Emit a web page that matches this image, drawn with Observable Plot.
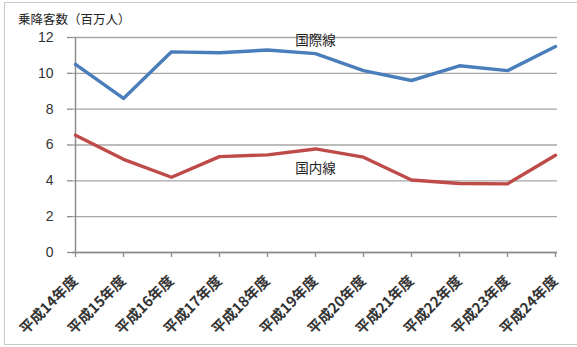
<!DOCTYPE html>
<html>
<head>
<meta charset="utf-8">
<script src="https://cdn.jsdelivr.net/npm/d3@7"></script>
<script src="https://cdn.jsdelivr.net/npm/@observablehq/plot@0.6"></script>
<style>
  html, body { margin: 0; padding: 0; background: #fff; }
  #wrap { position: relative; width: 577px; height: 347px; overflow: hidden; background: #fff;
          font-family: "Noto Sans CJK JP", "Noto Sans", sans-serif; }
  #frame { position: absolute; left: 4px; top: 2px; width: 590px; height: 343px;
           border: 1px solid #c8c8c8; box-sizing: border-box; }
  #title { position: absolute; left: 18px; top: 12px; font-size: 12.5px; line-height: 13px; color: #222; white-space: nowrap; }
  #chart { position: absolute; left: 0; top: 0; }
</style>
</head>
<body>
<div id="wrap">
  <div id="frame"></div>
  <div id="chart"></div>
  <div id="title">乗降客数（百万人）</div>
</div>
<script>
const categories = ["平成14年度","平成15年度","平成16年度","平成17年度","平成18年度","平成19年度","平成20年度","平成21年度","平成22年度","平成23年度","平成24年度"];
const international = [10.5, 8.6, 11.2, 11.15, 11.3, 11.1, 10.15, 9.6, 10.42, 10.15, 11.5];
const domestic = [6.55, 5.2, 4.2, 5.35, 5.45, 5.78, 5.32, 4.05, 3.85, 3.83, 5.43];
const yTicks = [0, 2, 4, 6, 8, 10, 12];
const seriesNames = ["国際線", "国内線"];
const seriesLabelX = ["平成19年度", "平成19年度"];
const seriesLabelY = [11.8, 4.7];
const seriesColors = ["#4a7ebb", "#be4b48"];

const rows = [];
categories.forEach((c, i) => {
  rows.push({cat: c, v: international[i], s: seriesNames[0]});
  rows.push({cat: c, v: domestic[i], s: seriesNames[1]});
});
const labels = seriesNames.map((n, i) => ({name: n, cat: seriesLabelX[i], v: seriesLabelY[i]}));

const chart = Plot.plot({
  width: 577,
  height: 347,
  marginLeft: 72,
  marginRight: 20,
  marginTop: 37,
  marginBottom: 95,
  style: {fontFamily: '"Noto Sans CJK JP", sans-serif', background: "transparent", overflow: "visible"},
  x: {type: "point", domain: categories, padding: 0, label: null},
  y: {domain: [0, 12], label: null},
  color: {domain: seriesNames, range: seriesColors},
  marks: [
    Plot.gridY(yTicks, {stroke: "#a6a6a6", strokeOpacity: 1, strokeWidth: 1.3}),
    Plot.axisY(yTicks, {tickSize: 5, tickPadding: 14, stroke: "#8c8c8c", strokeWidth: 1.3, fontSize: 14, fontFamily: '"Liberation Sans", Arial, sans-serif', fill: "#333", tickFormat: d => d}),
    Plot.ruleX([categories[0]], {y1: 0, y2: 12, stroke: "#8c8c8c", strokeWidth: 1.5}),
    Plot.ruleY([0], {stroke: "#8c8c8c", strokeWidth: 1.5}),
    Plot.axisX({tickSize: 5, tickPadding: 21, tickRotate: -45, stroke: "#8c8c8c", strokeWidth: 1.3, fontSize: 14.5, fontWeight: "bold", fill: "#333"}),
    Plot.line(rows, {x: "cat", y: "v", z: "s", stroke: "s", strokeWidth: 3.4}),
    Plot.text(labels, {x: "cat", y: "v", text: "name", fontSize: 13.5, fill: "#222"})
  ]
});
document.getElementById("chart").appendChild(chart);
</script>
</body>
</html>
